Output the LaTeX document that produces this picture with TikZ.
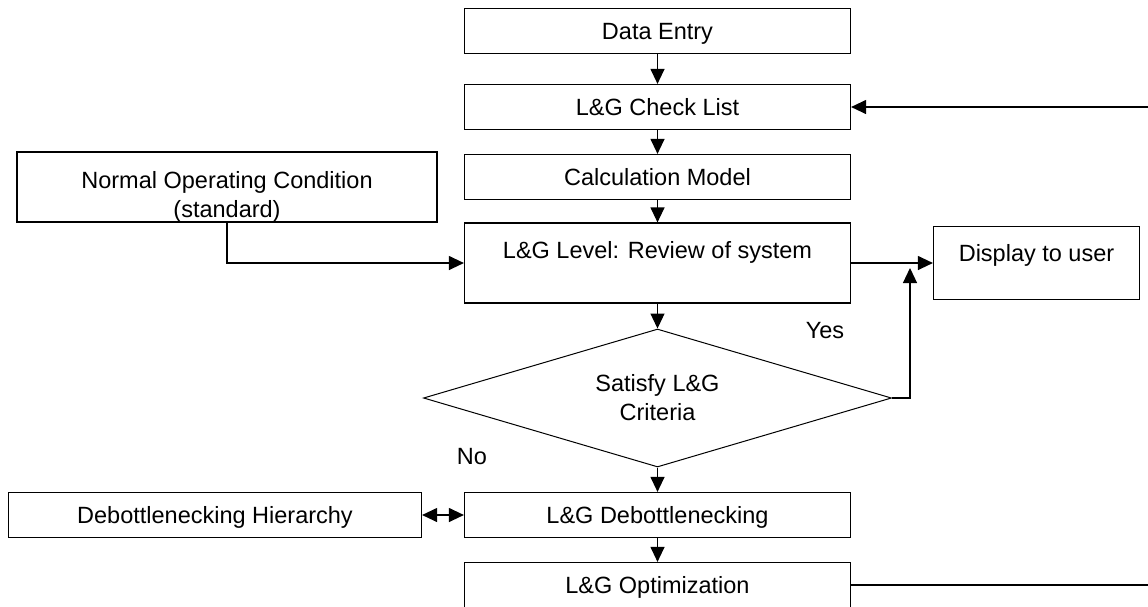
\documentclass[tikz,border=0pt]{standalone}
\usepackage{fontspec}
\setmainfont{Liberation Sans}
\usepackage{tikz}
\usetikzlibrary{shapes.geometric,arrows.meta}

\begin{document}
\begin{tikzpicture}[x=1pt,y=-1pt,
    font=\fontsize{23.5pt}{29pt}\selectfont,
    node distance=70pt,
    box/.style={draw,rectangle,line width=1.2pt,inner sep=0pt,
      minimum width=386pt,minimum height=45pt,
      text height=17pt,text depth=0pt},
    arr/.style={-{Triangle[length=15pt,width=14pt]},line width=1.2pt},
    dbl/.style={{Triangle[length=15pt,width=14pt]}-{Triangle[length=15pt,width=14pt]},line width=1.2pt}]

  \useasboundingbox (0,0) rectangle (1148,606);
  \clip (0,0) rectangle (1148,606);

  \node[box] (entry) at (657.5,31) {Data Entry};
  \node[box,below of=entry,yshift=-6pt] (check) {L\&G Check List};
  \node[box,below of=check] (calc) {Calculation Model};
  \node[box,below of=calc,yshift=-16pt,minimum height=80pt,text depth=26pt] (level) {L\&G Level: Review of system};
  \node[box,right of=level,xshift=309pt,minimum width=206pt,minimum height=73pt,text depth=20pt] (show) {Display to user};
  \node[box,minimum width=420pt,minimum height=70pt,align=center,text height=61pt] (normal) at (227,187) {Normal Operating Condition\\(standard)};

  \node[draw,diamond,aspect=3.4,line width=1pt,inner sep=0pt,minimum width=468pt,minimum height=138pt,align=center,below of=level,yshift=-65pt] (crit) {Satisfy L\&G\\Criteria};
  \node (yes) at (825,331) {Yes};
  \node (no) at (472,457) {No};

  \node[box,below of=crit,yshift=-47pt] (debot) {L\&G Debottlenecking};
  \node[box,left of=debot,xshift=-372.5pt,minimum width=413pt] (hier) {Debottlenecking Hierarchy};
  \node[box,below of=debot] (optim) {L\&G Optimization};

  \coordinate (up) at (910,268);
  \coordinate (rim) at (1152,300);

  \draw[arr] (entry) -- (check);
  \draw[arr] (check) -- (calc);
  \draw[arr] (calc) -- (level);
  \draw[arr] (normal.south) |- (level.west);
  \draw[arr] (level.east) -- (show.west);
  \draw[arr] (level) -- (crit);
  \draw[arr] (crit.east) -| (up);
  \draw[arr] (crit) -- (debot);
  \draw[dbl] (hier) -- (debot);
  \draw[arr] (debot) -- (optim);
  \draw[arr] (optim.east) -| (rim) |- (check.east);

\end{tikzpicture}
\end{document}
